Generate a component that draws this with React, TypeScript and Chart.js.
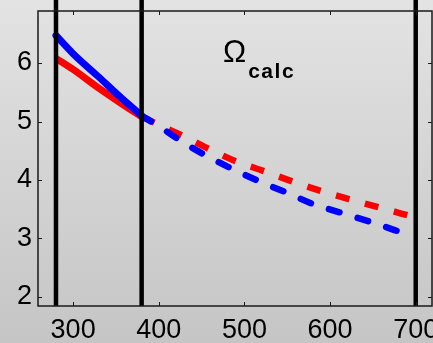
import React, { useEffect, useRef } from "react";
import { Chart, registerables } from "chart.js";

Chart.register(...registerables);

// ---- data ----
const blueSolidX = [280, 300, 330, 355, 380];
const blueSolidY = [6.47, 6.16, 5.76, 5.42, 5.1];
const redSolidX = [280, 300, 330, 355, 380];
const redSolidY = [6.08, 5.89, 5.57, 5.32, 5.08];
const blueDashX = [380, 400, 430, 460, 490, 520, 550, 580, 615, 650, 688];
const blueDashY = [5.1, 4.92, 4.63, 4.38, 4.16, 3.96, 3.78, 3.59, 3.43, 3.27, 3.08];
const redDashX = [380, 430, 460, 490, 525, 555, 590, 620, 655, 697];
const redDashY = [5.08, 4.74, 4.52, 4.32, 4.14, 3.98, 3.81, 3.68, 3.54, 3.37];
const markerLines = [280, 380, 700];
const xTicks = [300, 400, 500, 600, 700];
const yTicks = [2, 3, 4, 5, 6];
const xRange = [259, 719];
const yRange = [1.846, 6.889];
const titleMain = "Ω";
const titleSub = "calc";

const FONT = '"Liberation Sans", Arial, Helvetica, sans-serif';

const pts = (xs: number[], ys: number[]) => xs.map((x, i) => ({ x, y: ys[i] }));

const zeroPad = (s: any) => {
  s.paddingTop = 0;
  s.paddingBottom = 0;
  s.paddingLeft = 0;
  s.paddingRight = 0;
};

const decoPlugin = {
  id: "deco",
  afterDatasetsDraw(chart: any) {
    const { ctx, chartArea, scales } = chart;
    const xs = scales.x;
    const ys = scales.y;
    ctx.save();
    // vertical marker lines
    ctx.strokeStyle = "#000";
    ctx.lineWidth = 4.5;
    for (const v of markerLines) {
      const px = xs.getPixelForValue(v);
      ctx.beginPath();
      ctx.moveTo(px, 0);
      ctx.lineTo(px, chartArea.bottom);
      ctx.stroke();
    }
    // frame
    ctx.strokeStyle = "#1a1a1a";
    ctx.lineWidth = 1.5;
    ctx.strokeRect(chartArea.left, chartArea.top, chartArea.right - chartArea.left, chartArea.bottom - chartArea.top);
    // inward ticks
    ctx.lineWidth = 1;
    const tl = 4;
    for (const v of xTicks) {
      const px = Math.round(xs.getPixelForValue(v)) + 0.5;
      ctx.beginPath();
      ctx.moveTo(px, chartArea.bottom);
      ctx.lineTo(px, chartArea.bottom - tl);
      ctx.moveTo(px, chartArea.top);
      ctx.lineTo(px, chartArea.top + tl);
      ctx.stroke();
    }
    for (const v of yTicks) {
      const py = Math.round(ys.getPixelForValue(v)) + 0.5;
      ctx.beginPath();
      ctx.moveTo(chartArea.left, py);
      ctx.lineTo(chartArea.left + tl, py);
      ctx.moveTo(chartArea.right, py);
      ctx.lineTo(chartArea.right - tl, py);
      ctx.stroke();
    }
    // title text
    const tx = xs.getPixelForValue(475);
    const ty = ys.getPixelForValue(6.02);
    ctx.fillStyle = "#000";
    ctx.textBaseline = "alphabetic";
    ctx.textAlign = "left";
    ctx.font = `31px ${FONT}`;
    ctx.fillText(titleMain, tx, ty);
    const w = ctx.measureText(titleMain).width;
    ctx.font = `bold 21px ${FONT}`;
    try {
      (ctx as any).letterSpacing = "1.5px";
    } catch (e) {}
    ctx.fillText(titleSub, tx + w + 2, ty + 16);
    ctx.restore();
  },
};

export default function App() {
  const ref = useRef<HTMLCanvasElement | null>(null);
  useEffect(() => {
    document.body.style.margin = "0";
    const canvas = ref.current!;
    const chart = new Chart(canvas, {
      type: "line",
      data: {
        datasets: [
          {
            data: pts(blueSolidX, blueSolidY),
            borderColor: "#0000ff",
            borderWidth: 7,
            pointRadius: 0,
            cubicInterpolationMode: "monotone",
            borderCapStyle: "round",
          },
          {
            data: pts(blueDashX, blueDashY),
            borderColor: "#0000ff",
            borderWidth: 6.5,
            pointRadius: 0,
            borderDash: [11, 19],
            cubicInterpolationMode: "monotone",
            borderCapStyle: "round",
          },
          {
            data: pts(redSolidX, redSolidY),
            borderColor: "#ff0000",
            borderWidth: 7,
            pointRadius: 0,
            cubicInterpolationMode: "monotone",
          },
          {
            data: pts(redDashX, redDashY),
            borderColor: "#ff0000",
            borderWidth: 6.5,
            pointRadius: 0,
            borderDash: [14, 16],
            cubicInterpolationMode: "monotone",
          },
        ],
      },
      options: {
        responsive: false,
        animation: false,
        events: [],
        layout: { padding: { top: 11, right: 1, left: 0, bottom: 0 } },
        plugins: { legend: { display: false }, tooltip: { enabled: false }, title: { display: false } },
        scales: {
          x: {
            type: "linear",
            min: xRange[0],
            max: xRange[1],
            grid: { display: false, drawTicks: false },
            border: { display: false },
            afterBuildTicks: (s: any) => {
              s.ticks = xTicks.map((v) => ({ value: v }));
            },
            afterFit: (s: any) => {
              s.height = 37;
              zeroPad(s);
            },
            ticks: {
              color: "#000",
              padding: 8,
              maxRotation: 0,
              autoSkip: false,
              font: { family: FONT, size: 27 },
            },
          },
          y: {
            type: "linear",
            min: yRange[0],
            max: yRange[1],
            grid: { display: false, drawTicks: false },
            border: { display: false },
            afterBuildTicks: (s: any) => {
              s.ticks = yTicks.map((v) => ({ value: v }));
            },
            afterFit: (s: any) => {
              s.width = 38;
              zeroPad(s);
            },
            ticks: {
              color: "#000",
              padding: 6,
              autoSkip: false,
              font: { family: FONT, size: 27 },
            },
          },
        },
      },
      plugins: [decoPlugin],
    } as any);
    return () => chart.destroy();
  }, []);
  return (
    <div
      style={{
        width: 433,
        height: 343,
        background: "linear-gradient(to bottom, #e3e3e3, #c5c5c5)",
      }}
    >
      <canvas ref={ref} width={433} height={343} style={{ display: "block" }} />
    </div>
  );
}
